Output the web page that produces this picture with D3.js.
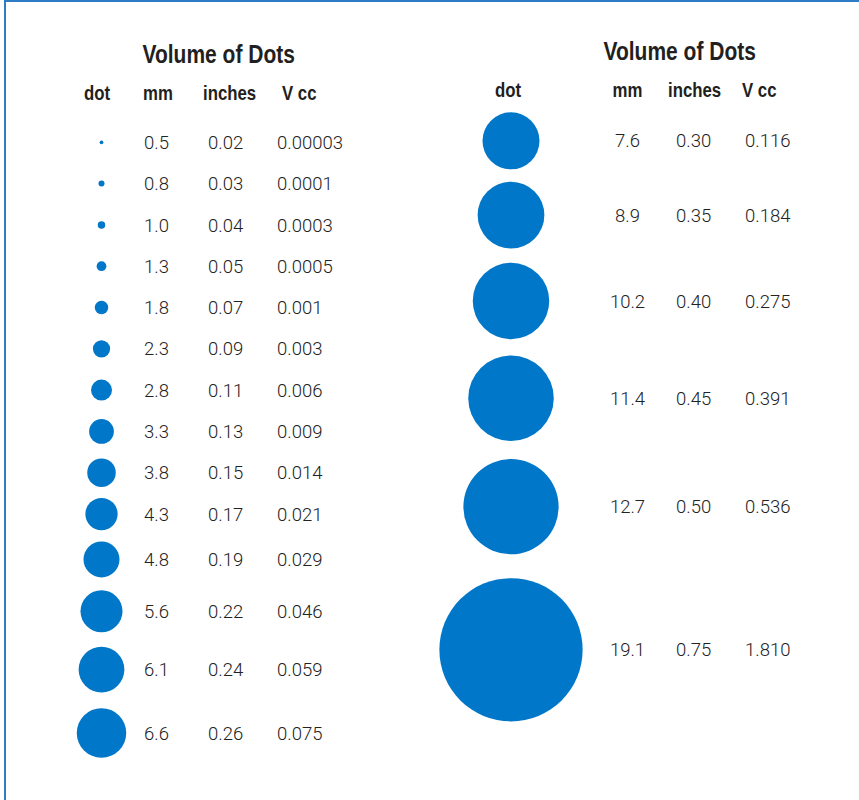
<!DOCTYPE html>
<html>
<head>
<meta charset="utf-8">
<script src="https://cdn.jsdelivr.net/npm/d3@7"></script>
<style>
  body { margin: 0; background: #fff; }
  .title { font-family: "Liberation Sans", Arial, sans-serif; font-weight: bold; font-size: 25px; fill: #231f20; }
  .head { font-family: "Liberation Sans", Arial, sans-serif; font-weight: bold; font-size: 20px; fill: #231f20; }
  .val { font-family: Roboto, "Liberation Sans", sans-serif; font-weight: 300; font-size: 18.5px; fill: #222; }
</style>
</head>
<body>
<script>
// left table
var leftMm = [0.5, 0.8, 1.0, 1.3, 1.8, 2.3, 2.8, 3.3, 3.8, 4.3, 4.8, 5.6, 6.1, 6.6];
var leftInches = ["0.02", "0.03", "0.04", "0.05", "0.07", "0.09", "0.11", "0.13", "0.15", "0.17", "0.19", "0.22", "0.24", "0.26"];
var leftVcc = ["0.00003", "0.0001", "0.0003", "0.0005", "0.001", "0.003", "0.006", "0.009", "0.014", "0.021", "0.029", "0.046", "0.059", "0.075"];

// right table
var rightMm = [7.6, 8.9, 10.2, 11.4, 12.7, 19.1];
var rightInches = ["0.30", "0.35", "0.40", "0.45", "0.50", "0.75"];
var rightVcc = ["0.116", "0.184", "0.275", "0.391", "0.536", "1.810"];

var headers = ["dot", "mm", "inches", "V cc"];
var title = "Volume of Dots";

var W = 859, H = 800;
var blue = "#0077c8";
var narrow = 0.84; // no condensed font installed, squeeze bold text instead

var svg = d3.select("body").append("svg")
    .attr("width", W)
    .attr("height", H);

// frame (top + left edge)
svg.append("path")
    .attr("d", d3.line()([[5, 800], [5, 1], [859, 1]]))
    .attr("fill", "none")
    .attr("stroke", "#2f7cc6")
    .attr("stroke-width", 2);

// dot radius in px per mm of dot diameter
var r = d3.scaleLinear().domain([0, 1]).range([0, 3.75]);

// stack rows: each step is a bit more than the two radii, never less than minStep
function rowCenters(mm, y0, minStep, k) {
    var ys = [y0];
    for (var i = 1; i < mm.length; i++) {
        var step = Math.max(minStep, k * (r(mm[i - 1]) + r(mm[i])));
        ys.push(ys[i - 1] + step);
    }
    return ys;
}

function squeeze(x, y) {
    return "translate(" + x + "," + y + ") scale(" + narrow + ",1)";
}

function drawTable(cfg) {
    var g = svg.append("g");
    var ys = rowCenters(cfg.mm, cfg.y0, cfg.minStep, cfg.k);

    g.append("text")
        .attr("class", "title")
        .attr("transform", squeeze(cfg.titleX, cfg.titleY))
        .text(title);

    g.selectAll(".head")
        .data(headers)
        .enter()
        .append("text")
        .attr("class", "head")
        .attr("transform", (d, i) => squeeze(cfg.headX[i], cfg.headY))
        .attr("text-anchor", (d, i) => i == 0 ? "middle" : "start")
        .text(d => d);

    var rows = cfg.mm.map((d, i) => ({mm: d, inches: cfg.inches[i], vcc: cfg.vcc[i], y: ys[i]}));

    g.selectAll("circle")
        .data(rows)
        .enter()
        .append("circle")
        .attr("cx", cfg.dotX)
        .attr("cy", d => d.y)
        .attr("r", d => r(d.mm))
        .attr("fill", blue);

    var cols = [d => d.mm.toFixed(1), d => d.inches, d => d.vcc];
    cols.forEach(function(f, c) {
        g.selectAll(".val-" + c)
            .data(rows)
            .enter()
            .append("text")
            .attr("class", "val val-" + c)
            .attr("x", cfg.valX[c])
            .attr("y", d => d.y)
            .attr("dy", "0.36em")
            .attr("text-anchor", cfg.valAnchor[c])
            .text(f);
    });
}

drawTable({
    mm: leftMm, inches: leftInches, vcc: leftVcc,
    y0: 142.3, minStep: 41.3, k: 1.33,
    dotX: 101.5,
    titleX: 142.5, titleY: 63,
    headX: [97, 143, 203, 282], headY: 100,
    valX: [144, 208, 277],
    valAnchor: ["start", "start", "start"]
});

drawTable({
    mm: rightMm, inches: rightInches, vcc: rightVcc,
    y0: 140.8, minStep: 41.3, k: 1.2,
    dotX: 511,
    titleX: 603.5, titleY: 60,
    headX: [508, 612.5, 668, 742], headY: 97,
    valX: [627.5, 676, 745],
    valAnchor: ["middle", "start", "start"]
});
</script>
</body>
</html>
